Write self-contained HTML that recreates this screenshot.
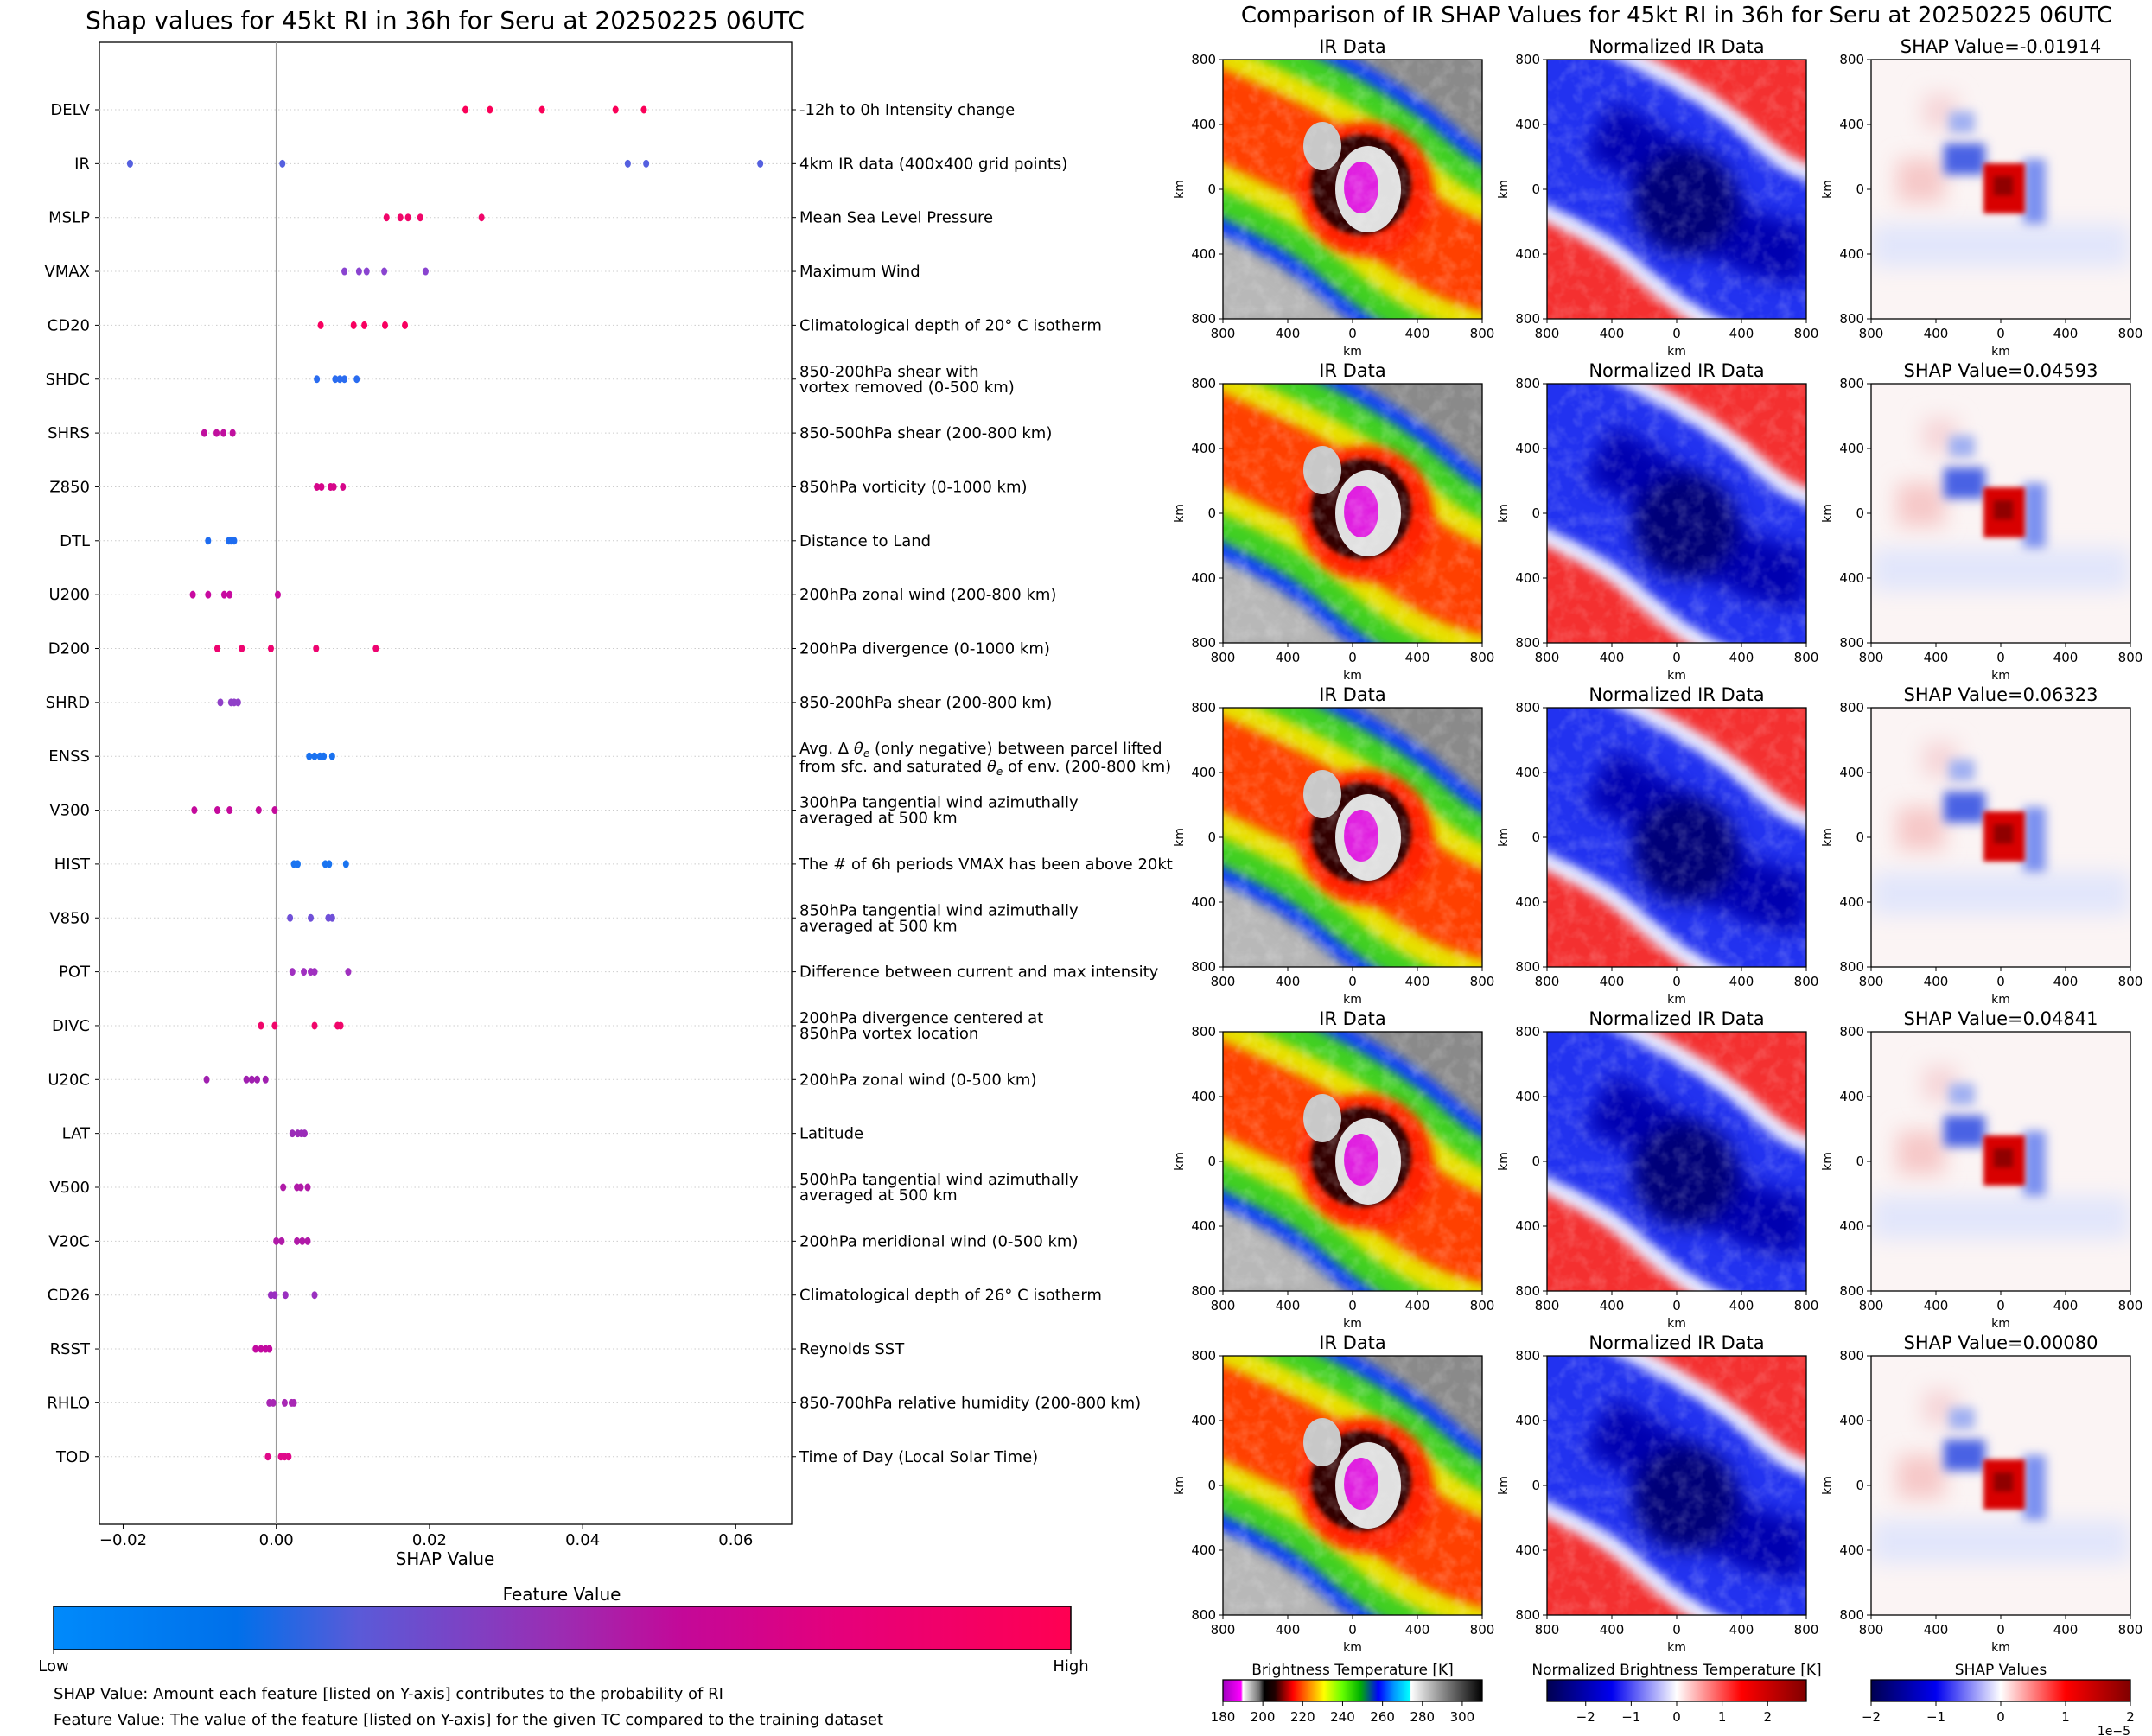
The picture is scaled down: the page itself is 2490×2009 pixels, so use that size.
<!DOCTYPE html>
<html><head><meta charset="utf-8"><style>
html,body{margin:0;padding:0;background:#fff}
svg{display:block;font-family:"DejaVu Sans","Liberation Sans",sans-serif}
</style></head><body>
<svg id="root" width="2490" height="2009" viewBox="0 0 2490 2009" xmlns="http://www.w3.org/2000/svg">
<defs>
<linearGradient id="fvgrad" x1="0" x2="1" y1="0" y2="0">
<stop offset="0" stop-color="#008afb"/><stop offset="0.18" stop-color="#0070ea"/><stop offset="0.3" stop-color="#5a5ad8"/>
<stop offset="0.5" stop-color="#9c2cb2"/><stop offset="0.62" stop-color="#c40898"/><stop offset="0.78" stop-color="#e6007a"/><stop offset="1" stop-color="#ff0052"/>
</linearGradient>
<linearGradient id="btgrad" x1="0" x2="1">
<stop offset="0" stop-color="#a000c0"/><stop offset="0.07" stop-color="#ff00ff"/><stop offset="0.077" stop-color="#ffffff"/>
<stop offset="0.14" stop-color="#707070"/><stop offset="0.16" stop-color="#000"/><stop offset="0.2" stop-color="#200000"/>
<stop offset="0.27" stop-color="#ff0000"/><stop offset="0.34" stop-color="#ff9900"/><stop offset="0.39" stop-color="#ffff00"/>
<stop offset="0.46" stop-color="#66ff00"/><stop offset="0.53" stop-color="#00b000"/><stop offset="0.6" stop-color="#0000ff"/>
<stop offset="0.66" stop-color="#0099ff"/><stop offset="0.72" stop-color="#00ffff"/><stop offset="0.725" stop-color="#ffffff"/>
<stop offset="0.85" stop-color="#888"/><stop offset="1" stop-color="#000"/>
</linearGradient>
<linearGradient id="seis" x1="0" x2="1">
<stop offset="0" stop-color="#000050"/><stop offset="0.25" stop-color="#0000f0"/><stop offset="0.5" stop-color="#ffffff"/>
<stop offset="0.75" stop-color="#ff0000"/><stop offset="1" stop-color="#800000"/>
</linearGradient>
<filter id="bl6" filterUnits="userSpaceOnUse" x="-200" y="-200" width="700" height="700"><feGaussianBlur stdDeviation="6"/></filter>
<filter id="bl12" filterUnits="userSpaceOnUse" x="-200" y="-200" width="700" height="700"><feGaussianBlur stdDeviation="12"/></filter>
<filter id="bl3" filterUnits="userSpaceOnUse" x="-200" y="-200" width="700" height="700"><feGaussianBlur stdDeviation="3"/></filter>
<filter id="noise" x="0" y="0" width="100%" height="100%">
<feTurbulence type="fractalNoise" baseFrequency="0.06" numOctaves="3" seed="4"/>
<feColorMatrix type="matrix" values="0 0 0 0 1  0 0 0 0 1  0 0 0 0 1  0 0 0 1.3 -0.55"/>
</filter>
<clipPath id="pclip"><rect x="0" y="0" width="300" height="300"/></clipPath>
<symbol id="irsym" viewBox="0 0 300 300">
<g clip-path="url(#pclip)">
<rect width="300" height="300" fill="#8a8a8a"/>
<path d="M-20,170 L160,310 L-20,310Z" fill="#b8b8b8" filter="url(#bl12)"/>
<path d="M-60,40 C60,90 120,120 165,155 S250,240 360,250" fill="none" stroke="#1040ff" stroke-width="250" filter="url(#bl6)"/>
<path d="M-60,40 C60,90 120,120 165,155 S250,240 360,250" fill="none" stroke="#40d020" stroke-width="215" filter="url(#bl6)"/>
<path d="M-60,40 C60,90 120,120 165,155 S250,240 360,250" fill="none" stroke="#e8e000" stroke-width="155" filter="url(#bl6)"/>
<path d="M-60,40 C60,90 120,120 165,155 S250,240 360,250" fill="none" stroke="#ff4000" stroke-width="100" filter="url(#bl6)"/>
<circle cx="165" cy="150" r="78" fill="#ff2000" filter="url(#bl6)"/>
<circle cx="160" cy="145" r="58" fill="#300000" filter="url(#bl3)"/>
<ellipse cx="168" cy="150" rx="38" ry="50" fill="#e0e0e0"/>
<ellipse cx="115" cy="100" rx="22" ry="28" fill="#c8c8c8"/>
<ellipse cx="160" cy="148" rx="20" ry="30" fill="#e020e0"/>
<rect width="300" height="300" filter="url(#noise)" opacity="0.35"/>
</g>
</symbol>
<symbol id="nrsym" viewBox="0 0 300 300">
<g clip-path="url(#pclip)">
<rect width="300" height="300" fill="#f43030"/>
<path d="M-60,40 C60,90 120,120 165,160 S250,240 360,240" fill="none" stroke="#e8e8ff" stroke-width="225" filter="url(#bl6)"/>
<path d="M-60,40 C60,90 120,120 165,160 S250,240 360,240" fill="none" stroke="#2030f0" stroke-width="185" filter="url(#bl6)"/>
<path d="M60,80 C120,110 150,130 170,160 S230,220 300,225" fill="none" stroke="#0000b0" stroke-width="70" filter="url(#bl12)"/>
<circle cx="160" cy="165" r="60" fill="#000078" filter="url(#bl12)"/>
<rect width="300" height="300" filter="url(#noise)" opacity="0.3"/>
</g>
</symbol>
<symbol id="shsym" viewBox="0 0 300 300">
<g clip-path="url(#pclip)">
<rect width="300" height="300" fill="#fbf4f4"/>
<rect x="0" y="190" width="300" height="50" fill="#e2e6fb" filter="url(#bl12)"/>
<rect x="30" y="115" width="55" height="50" fill="#f6c8c8" filter="url(#bl12)"/>
<rect x="60" y="40" width="40" height="40" fill="#f6d5d8" filter="url(#bl12)"/>
<rect x="84" y="97" width="48" height="36" fill="#4a62e4" filter="url(#bl6)"/>
<rect x="176" y="115" width="26" height="75" fill="#7a90f0" filter="url(#bl6)"/>
<rect x="90" y="60" width="30" height="25" fill="#a0b0f2" filter="url(#bl6)"/>
<rect x="130" y="120" width="48" height="58" fill="#d80000" filter="url(#bl3)"/>
<rect x="142" y="135" width="22" height="22" fill="#900000" filter="url(#bl3)"/>
</g>
</symbol>
</defs>
<rect width="2490" height="2009" fill="#fff"/>
<text x="515" y="33" font-size="28" text-anchor="middle">Shap values for 45kt RI in 36h for Seru at 20250225 06UTC</text>
<text x="1940" y="26" font-size="26" text-anchor="middle">Comparison of IR SHAP Values for 45kt RI in 36h for Seru at 20250225 06UTC</text>
<g id="left"></g>
<g id="right"></g>
<g>
<text x="650" y="1852" font-size="20" text-anchor="middle">Feature Value</text>
<rect x="62" y="1859" width="1177" height="50" fill="url(#fvgrad)" stroke="#000" stroke-width="1.5"/>
<line x1="62" y1="1909" x2="62" y2="1914" stroke="#000"/><line x1="1239" y1="1909" x2="1239" y2="1914" stroke="#000"/>
<text x="62" y="1934" font-size="18" text-anchor="middle">Low</text>
<text x="1239" y="1934" font-size="18" text-anchor="middle">High</text>
</g>
<text x="62" y="1966" font-size="18">SHAP Value: Amount each feature [listed on Y-axis] contributes to the probability of RI</text>
<text x="62" y="1996" font-size="18">Feature Value: The value of the feature [listed on Y-axis] for the given TC compared to the training dataset</text>
<script>
const NS="http://www.w3.org/2000/svg";
const features=["DELV","IR","MSLP","VMAX","CD20","SHDC","SHRS","Z850","DTL","U200","D200","SHRD","ENSS","V300","HIST","V850","POT","DIVC","U20C","LAT","V500","V20C","CD26","RSST","RHLO","TOD"];
const descriptions=[["-12h to 0h Intensity change"],["4km IR data (400x400 grid points)"],["Mean Sea Level Pressure"],["Maximum Wind"],["Climatological depth of 20° C isotherm"],["850-200hPa shear with","vortex removed (0-500 km)"],["850-500hPa shear (200-800 km)"],["850hPa vorticity (0-1000 km)"],["Distance to Land"],["200hPa zonal wind (200-800 km)"],["200hPa divergence (0-1000 km)"],["850-200hPa shear (200-800 km)"],["ENSS"],["300hPa tangential wind azimuthally","averaged at 500 km"],["The # of 6h periods VMAX has been above 20kt"],["850hPa tangential wind azimuthally","averaged at 500 km"],["Difference between current and max intensity"],["200hPa divergence centered at","850hPa vortex location"],["200hPa zonal wind (0-500 km)"],["Latitude"],["500hPa tangential wind azimuthally","averaged at 500 km"],["200hPa meridional wind (0-500 km)"],["Climatological depth of 26° C isotherm"],["Reynolds SST"],["850-700hPa relative humidity (200-800 km)"],["Time of Day (Local Solar Time)"]];
const shapValues=[
[0.0247,0.0279,0.0347,0.0443,0.0480],
[-0.0191,0.0008,0.0459,0.0483,0.0632],
[0.0144,0.0162,0.0172,0.0188,0.0268],
[0.0089,0.0108,0.0118,0.0141,0.0195],
[0.0058,0.0101,0.0115,0.0142,0.0168],
[0.0053,0.0077,0.0083,0.0089,0.0105],
[-0.0094,-0.0078,-0.0069,-0.0057],
[0.0053,0.0059,0.0071,0.0075,0.0087],
[-0.0089,-0.0062,-0.0059,-0.0055],
[-0.0109,-0.0089,-0.0068,-0.0061,0.0002],
[-0.0077,-0.0045,-0.0007,0.0052,0.0130],
[-0.0073,-0.0059,-0.0055,-0.0050],
[0.0043,0.0050,0.0057,0.0062,0.0073],
[-0.0107,-0.0077,-0.0061,-0.0023,-0.0002],
[0.0023,0.0028,0.0064,0.0069,0.0091],
[0.0018,0.0045,0.0068,0.0073],
[0.0021,0.0036,0.0045,0.0050,0.0094],
[-0.0020,-0.0002,0.0050,0.0080,0.0084],
[-0.0091,-0.0039,-0.0032,-0.0025,-0.0014],
[0.0021,0.0028,0.0033,0.0037],
[0.0009,0.0027,0.0032,0.0041],
[0.0000,0.0007,0.0027,0.0034,0.0041],
[-0.0007,-0.0002,0.0012,0.0050],
[-0.0027,-0.0020,-0.0014,-0.0009],
[-0.0009,-0.0004,0.0011,0.0020,0.0023],
[-0.0011,0.0006,0.0011,0.0016]];
const featureColors=["#fa0058","#5560e0","#f0066a","#8a44d0","#f80060","#2a6cf0","#c0109e","#d6068a","#1e6cf0","#c80aa0","#ee0470","#9040c8","#1a72f0","#c40a9c","#1a74f0","#7050d8","#a030c0","#f0066a","#a020b0","#9a2cb8","#b01aa8","#b01aa8","#9a30c0","#c20aa0","#a828b4","#e00a8a"];
const xTicks=[-0.02,0,0.02,0.04,0.06];
const xTickLabels=["−0.02","0.00","0.02","0.04","0.06"];
const shapTitles=["SHAP Value=-0.01914","SHAP Value=0.04593","SHAP Value=0.06323","SHAP Value=0.04841","SHAP Value=0.00080"];

const AX={l:115,r:916,t:49,b:1764,xmin:-0.0231,xmax:0.0673};
function xs(v){return AX.l+(v-AX.xmin)/(AX.xmax-AX.xmin)*(AX.r-AX.l);}
function ys(i){return 127+i*62.35;}
function mk(tag,attrs,parent){const e=document.createElementNS(NS,tag);for(const k in attrs)e.setAttribute(k,attrs[k]);parent.appendChild(e);return e;}
function ts(parent,txt,attrs){const t=mk('tspan',attrs||{},parent);t.textContent=txt;return t;}
const L=document.getElementById('left');
const frame=mk('rect',{x:AX.l,y:AX.t,width:AX.r-AX.l,height:AX.b-AX.t,fill:'none',stroke:'#000','stroke-width':1.3},L);


features.forEach((f,i)=>{
  const y=ys(i);
  const g=mk('line',{x1:AX.l,x2:AX.r,y1:y,y2:y,stroke:'#ccc','stroke-width':1,'stroke-dasharray':'1.5,3'},L);
  
  
  mk('line',{x1:AX.l-5,x2:AX.l,y1:y,y2:y,stroke:'#000'},L);
  mk('line',{x1:AX.r,x2:AX.r+5,y1:y,y2:y,stroke:'#000'},L);
  const t=mk('text',{x:104,y:y+6,'font-size':18,'text-anchor':'end'},L);
  t.textContent=f;
  
  
  const d=descriptions[i];
  const dt=mk('text',{x:925,'font-size':18},L);
  
  
  if(f==="ENSS"){
    dt.setAttribute('y',y-3);
    ts(dt,'Avg. Δ ');
    ts(dt,'θ',{'font-style':'italic'});
    ts(dt,'e',{'font-size':12,dy:4,'font-style':'italic'});
    ts(dt,' (only negative) between parcel lifted',{dy:-4});
    ts(dt,'from sfc. and saturated ',{x:925,dy:21});
    ts(dt,'θ',{'font-style':'italic'});
    ts(dt,'e',{'font-size':12,dy:4,'font-style':'italic'});
    ts(dt,' of env. (200-800 km)',{dy:-4});
  } else if(d.length===1){dt.setAttribute('y',y+6);dt.textContent=d[0];}
  else{
    dt.setAttribute('y',y-3);
    ts(dt,d[0],{x:925});
    ts(dt,d[1],{x:925,dy:18});
  }
});
const z=mk('line',{x1:xs(0),x2:xs(0),y1:AX.t,y2:AX.b,stroke:'#999','stroke-width':1.5},L);


shapValues.forEach((arr,i)=>{
  arr.forEach(v=>{
    const c=mk('ellipse',{cx:xs(v),cy:ys(i),rx:3.5,ry:4.5,fill:featureColors[i]},L);
    
    
  });
});
xTicks.forEach((v,k)=>{
  mk('line',{x1:xs(v),x2:xs(v),y1:AX.b,y2:AX.b+5,stroke:'#000'},L);
  const t=mk('text',{x:xs(v),y:1788,'font-size':18,'text-anchor':'middle'},L);
  t.textContent=xTickLabels[k];
  
  
});
const xl=mk('text',{x:515,y:1811,'font-size':20,'text-anchor':'middle'},L);
xl.textContent="SHAP Value";



const R=document.getElementById('right');
const colX=[1415,1790,2165], rowY=[69,444,819,1194,1569], P=300;
const syms=['#irsym','#nrsym','#shsym'];
const yLab=["800","400","0","400","800"];
rowY.forEach((ty,r)=>{
  colX.forEach((lx,c)=>{
    const u=mk('use',{href:syms[c],x:lx,y:ty,width:P,height:P},R);
    
    
    mk('rect',{x:lx,y:ty,width:P,height:P,fill:'none',stroke:'#000','stroke-width':1.3},R);
    const tt=mk('text',{x:lx+P/2,y:ty-8,'font-size':21,'text-anchor':'middle'},R);
    tt.textContent=c===0?"IR Data":(c===1?"Normalized IR Data":shapTitles[r]);
    
    
    for(let k=0;k<5;k++){
      const yy=ty+k*P/4, xx=lx+k*P/4;
      mk('line',{x1:lx-5,x2:lx,y1:yy,y2:yy,stroke:'#000'},R);
      mk('line',{x1:xx,x2:xx,y1:ty+P,y2:ty+P+5,stroke:'#000'},R);
      const a=mk('text',{x:lx-8,y:yy+5,'font-size':15,'text-anchor':'end'},R);
      a.textContent=yLab[k];
      
      
      const b=mk('text',{x:xx,y:ty+P+22,'font-size':15,'text-anchor':'middle'},R);
      b.textContent=yLab[k];
      
      
    }
    const kx=mk('text',{x:lx+P/2,y:ty+P+42,'font-size':14,'text-anchor':'middle'},R);
    kx.textContent="km";
    
    
    const ky=mk('text',{x:0,y:0,'font-size':14,'text-anchor':'middle',transform:`translate(${lx-46},${ty+P/2}) rotate(-90)`},R);
    ky.textContent="km";
    
    
  });
});
const cbTitles=["Brightness Temperature [K]","Normalized Brightness Temperature [K]","SHAP Values"];
const cbFills=["url(#btgrad)","url(#seis)","url(#seis)"];
const cbTicks=[[180,200,220,240,260,280,300],[-2,-1,0,1,2],[-2,-1,0,1,2]];
const cbRange=[[180,310],[-2.85,2.85],[-2,2]];
colX.forEach((lx,c)=>{
  const t=mk('text',{x:lx+P/2,y:1938,'font-size':17,'text-anchor':'middle'},R);
  t.textContent=cbTitles[c];
  
  
  const b=mk('rect',{x:lx,y:1944,width:P,height:25,fill:cbFills[c],stroke:'#000','stroke-width':1.3},R);
  
  
  cbTicks[c].forEach(v=>{
    const x=lx+(v-cbRange[c][0])/(cbRange[c][1]-cbRange[c][0])*P;
    mk('line',{x1:x,x2:x,y1:1969,y2:1974,stroke:'#000'},R);
    const l=mk('text',{x:x,y:1992,'font-size':15,'text-anchor':'middle'},R);
    l.textContent=(v<0?"−"+(-v):String(v));
    
    
  });
});
const off=mk('text',{x:2465,y:2008,'font-size':14,'text-anchor':'end'},R);
off.textContent="1e−5";


</script>
</svg>
</body></html>
